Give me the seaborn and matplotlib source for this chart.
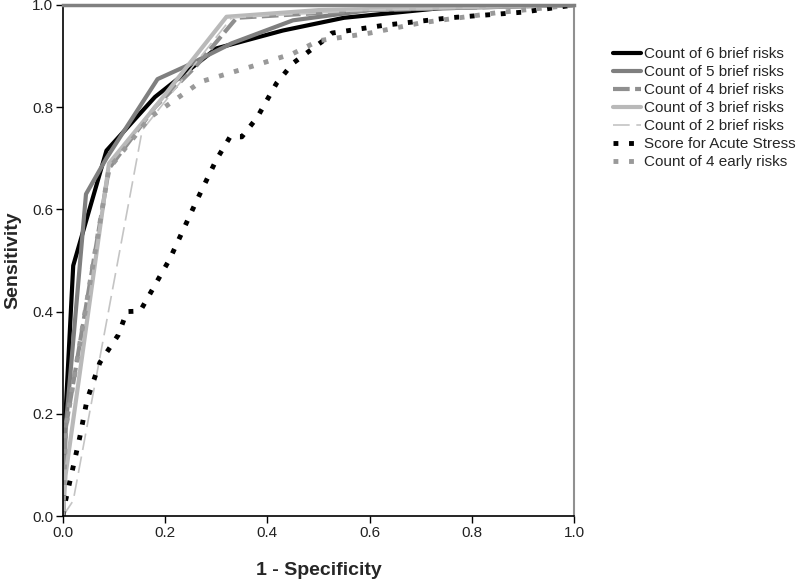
import numpy as np
import pandas as pd
import matplotlib
matplotlib.use('Agg')
import matplotlib.pyplot as plt
import seaborn as sns

# ROC curves: (1 - specificity, sensitivity)
fpr_6brief = [0.0, 0.005, 0.02, 0.085, 0.18, 0.30, 0.43, 0.55, 0.80, 1.0]
tpr_6brief = [0.0, 0.20, 0.49, 0.715, 0.82, 0.915, 0.95, 0.975, 1.0, 1.0]

fpr_5brief = [0.0, 0.005, 0.045, 0.085, 0.185, 0.24, 0.33, 0.45, 0.60, 1.0]
tpr_5brief = [0.0, 0.17, 0.63, 0.70, 0.855, 0.88, 0.925, 0.97, 0.99, 1.0]

fpr_4brief = [0.0, 0.005, 0.09, 0.18, 0.26, 0.34, 0.60, 1.0]
tpr_4brief = [0.0, 0.17, 0.68, 0.80, 0.88, 0.975, 0.99, 1.0]

fpr_3brief = [0.0, 0.005, 0.09, 0.18, 0.32, 0.50, 1.0]
tpr_3brief = [0.0, 0.08, 0.69, 0.80, 0.977, 0.99, 1.0]

fpr_2brief = [0.0, 0.02, 0.155, 0.33, 0.60, 1.0]
tpr_2brief = [0.0, 0.03, 0.755, 0.975, 0.99, 1.0]

fpr_acute = [0.0, 0.005, 0.014, 0.033, 0.047, 0.072, 0.108, 0.125, 0.151, 0.209,
             0.262, 0.30, 0.327, 0.35, 0.38, 0.418, 0.45, 0.509, 0.526, 0.626,
             0.757, 0.90, 1.0]
tpr_acute = [0.0, 0.03, 0.07, 0.155, 0.227, 0.30, 0.354, 0.40, 0.401, 0.503,
             0.618, 0.697, 0.742, 0.742, 0.78, 0.847, 0.886, 0.93, 0.945, 0.96,
             0.975, 0.986, 1.0]

fpr_early = [0.0, 0.005, 0.09, 0.17, 0.27, 0.37, 0.45, 0.50, 0.60, 0.70, 0.85, 1.0]
tpr_early = [0.0, 0.17, 0.68, 0.78, 0.85, 0.88, 0.905, 0.93, 0.945, 0.965, 0.985, 1.0]

labels = ['Count of 6 brief risks', 'Count of 5 brief risks', 'Count of 4 brief risks',
          'Count of 3 brief risks', 'Count of 2 brief risks', 'Score for Acute Stress',
          'Count of 4 early risks']

frames = []
for lab, fx, ty in zip(labels,
                       [fpr_6brief, fpr_5brief, fpr_4brief, fpr_3brief, fpr_2brief, fpr_acute, fpr_early],
                       [tpr_6brief, tpr_5brief, tpr_4brief, tpr_3brief, tpr_2brief, tpr_acute, tpr_early]):
    frames.append(pd.DataFrame({'fpr': fx, 'tpr': ty, 'curve': lab, 'step': range(len(fx))}))
df = pd.concat(frames, ignore_index=True)

styles = {
    'Count of 6 brief risks': dict(color='#000000', lw=3.0, ls='-'),
    'Count of 5 brief risks': dict(color='#7f7f7f', lw=3.0, ls='-'),
    'Count of 4 brief risks': dict(color='#8f8f8f', lw=3.0, ls=(0, (4, 1.3))),
    'Count of 3 brief risks': dict(color='#b9b9b9', lw=3.0, ls='-'),
    'Count of 2 brief risks': dict(color='#c4c4c4', lw=1.2, ls=(0, (10, 4))),
    'Score for Acute Stress': dict(color='#000000', lw=3.5, ls=(0, (1, 2.2))),
    'Count of 4 early risks': dict(color='#999999', lw=3.5, ls=(0, (1, 2.2))),
}

sns.set_style('white')
plt.rcParams['font.family'] = ['Liberation Sans', 'DejaVu Sans']

fig = plt.figure(figsize=(8, 5.79), dpi=100)
ax = fig.add_axes([63 / 800, 1 - 516 / 579, 511 / 800, 511 / 579])

for lab in labels:
    st = styles[lab]
    sns.lineplot(data=df[df['curve'] == lab], x='fpr', y='tpr', sort=False, estimator=None,
                 ax=ax, color=st['color'], linewidth=st['lw'], linestyle=st['ls'],
                 label=lab, legend=False)

ax.set_xlim(0, 1)
ax.set_ylim(0, 1)
ticks = [0.0, 0.2, 0.4, 0.6, 0.8, 1.0]
ax.set_xticks(ticks)
ax.set_yticks(ticks)
ax.set_xticklabels([f'{t:.1f}' for t in ticks], fontsize=11, color='#222222')
ax.set_yticklabels([f'{t:.1f}' for t in ticks], fontsize=11, color='#222222')
ax.tick_params(axis='both', which='both', direction='out', length=5, width=1,
               color='black', bottom=True, left=True, pad=2)
ax.set_xlabel('1 - Specificity', fontsize=14, fontweight='bold', labelpad=16)
ax.set_ylabel('Sensitivity', fontsize=14, fontweight='bold', labelpad=8)

for side in ['left', 'bottom']:
    ax.spines[side].set_color('black')
    ax.spines[side].set_linewidth(1.2)
ax.spines['top'].set_color('#808080')
ax.spines['top'].set_linewidth(2.5)
ax.spines['right'].set_color('#909090')
ax.spines['right'].set_linewidth(1.5)
for s in ax.spines.values():
    s.set_visible(True)

handles, _ = ax.get_legend_handles_labels()
fig.legend(handles, labels, loc='upper left', bbox_to_anchor=(607 / 800, 1 - 41 / 579),
           frameon=False, fontsize=11, handlelength=1.85, handletextpad=0.2,
           labelspacing=0.26, borderaxespad=0)

fig.savefig('out.png', dpi=100)
